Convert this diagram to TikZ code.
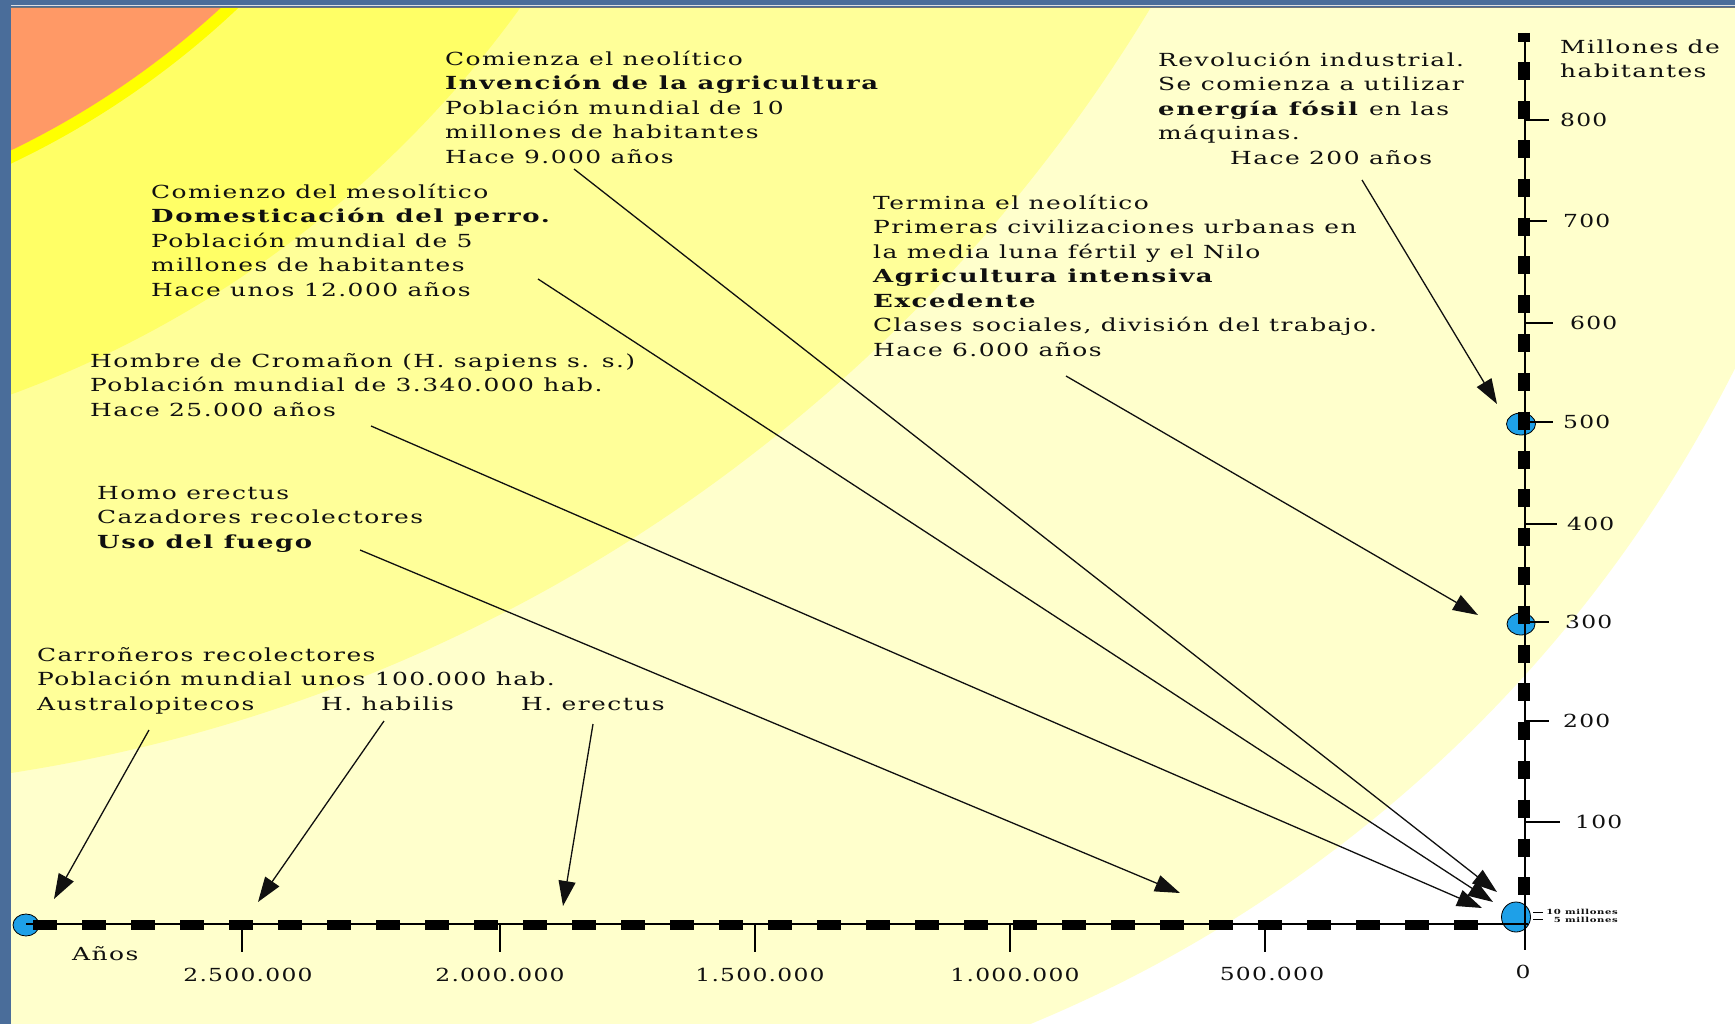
\documentclass[tikz,border=0pt]{standalone}
\usepackage{fontspec}
\setmainfont{DejaVu Serif}[FakeStretch=1.385, LetterSpace=8, BoldFeatures={FakeStretch=1.44, LetterSpace=9}]
\newfontfamily\numfont{DejaVu Serif}[FakeStretch=1.30, LetterSpace=7]
\usetikzlibrary{arrows.meta}
\definecolor{frameblue}{HTML}{4A6D9A}
\definecolor{orangeC}{HTML}{FF9966}
\definecolor{brightY}{HTML}{FFFF00}
\definecolor{midY}{HTML}{FFFF66}
\definecolor{lightY}{HTML}{FFFF99}
\definecolor{paleY}{HTML}{FFFFCC}
\definecolor{skyC}{HTML}{1EA0E8}
\definecolor{inkC}{HTML}{101010}
\newcommand\topstrut{\rule{0pt}{15pt}}
\begin{document}
\begin{tikzpicture}[x=1pt,y=-1pt,
  lbl/.style={anchor=north west, inner sep=0pt, align=left, text=inkC,
    font=\fontsize{18}{24.5}\selectfont},
  one/.style={anchor=base west, inner sep=0pt, text=inkC,
    font=\fontsize{18}{24.5}\selectfont},
  num/.style={inner sep=0pt, text=inkC, font=\numfont\fontsize{18}{22}\selectfont},
  tiny/.style={anchor=east, inner sep=0pt, text=inkC, font=\fontsize{7}{8}\selectfont\bfseries},
  pointer/.style={draw=inkC, line width=1.3pt, -{Triangle[length=25pt,width=17pt]}},
  dot/.style={fill=skyC, draw=black, line width=0.8pt},
  axisline/.style={draw=black, line width=1.6pt},
  tick/.style={draw=black, line width=1.4pt}]
\useasboundingbox (0,0) rectangle (1735,1024);
% background bands
\fill[white] (0,0) rectangle (1735,1024);
\begin{scope}
  \clip (0,0) rectangle (1735,1024);
  \fill[paleY] (505,-247) circle[radius=1375];
  \fill[lightY] (-238,-829) circle[radius=1621];
  \fill[midY] (-365,-630) circle[radius=1091];
  \fill[brightY] (-365,-630) circle[radius=878];
  \fill[orangeC] (-365,-630) circle[radius=866];
\end{scope}
% frame
\fill[frameblue] (0,0) rectangle (11,1024);
\fill[frameblue] (0,0) rectangle (1735,8);
\draw[white!75!gray, line width=1pt] (11,5.5) -- (1735,5.5);
\draw[black!55, line width=1pt] (11,7.5) -- (1735,7.5);
% markers
\draw[dot] (26,925) ellipse[x radius=13, y radius=11];
\draw[dot] (1516,917) ellipse[x radius=14.5, y radius=15];
\draw[dot] (1521,424) ellipse[x radius=14.5, y radius=11];
\draw[dot] (1521,624) ellipse[x radius=14, y radius=11];
% axes
\coordinate (hstart) at (26,924);
\coordinate (hend) at (1528,924);
\coordinate (vtop) at (1525,33);
\coordinate (vbot) at (1525,950);
\draw[axisline] (hstart) -- (hend);
\draw[axisline] (vtop) -- (vbot);
\draw[black, line width=10pt, dash pattern=on 24pt off 25pt] (33,925) -- (1478,925);
\draw[black, line width=12pt, dash pattern=on 18pt off 20.8pt, dash phase=9.3pt] (1524,33) -- (1524,903);
% horizontal ticks and labels
\foreach \tx in {242,500,755,1010,1265}{\draw[tick] (\tx,924) -- (\tx,952);}
\node[num] (t25) at (248,975) {2.500.000};
\node[num] (t20) at (500,975) {2.000.000};
\node[num] (t15) at (760,975) {1.500.000};
\node[num] (t10) at (1015,975) {1.000.000};
\node[num] (t05) at (1272,974) {500.000};
\node[num] (t00) at (1523,972) {0};
\node[one] (anos) at (72,960) {Años};
% vertical ticks and labels
\draw[tick] (1525,120) -- (1549,120);
\draw[tick] (1525,221) -- (1547,221);
\draw[tick] (1525,323) -- (1553,323);
\draw[tick] (1525,422) -- (1553,422);
\draw[tick] (1525,524) -- (1557,524);
\draw[tick] (1525,622) -- (1549,622);
\draw[tick] (1525,721) -- (1549,721);
\draw[tick] (1525,822) -- (1560,822);
\node[num, anchor=west] (v8) at (1560,120) {800};
\node[num, anchor=west] (v7) at (1563,221) {700};
\node[num, anchor=west] (v6) at (1570,323) {600};
\node[num, anchor=west] (v5) at (1563,422) {500};
\node[num, anchor=west] (v4) at (1567,524) {400};
\node[num, anchor=west] (v3) at (1565,622) {300};
\node[num, anchor=west] (v2) at (1563,721) {200};
\node[num, anchor=west] (v1) at (1575,822) {100};
\node[lbl] (mill) at (1560,38) {\topstrut Millones de\\habitantes};
\draw[tick, line width=1pt] (1533,912) -- (1543,912);
\draw[tick, line width=1pt] (1533,919) -- (1543,919);
\node[tiny] (m10) at (1618,912) {10 millones};
\node[tiny] (m5) at (1618,920) {5 millones};
% text blocks
\node[lbl] (neo) at (445,50) {\topstrut Comienza el neolítico\\\textbf{Invención de la agricultura}\\Población mundial de 10\\millones de habitantes\\Hace 9.000 años};
\node[lbl] (meso) at (151,183) {\topstrut Comienzo del mesolítico\\\textbf{Domesticación del perro.}\\Población mundial de 5\\millones de habitantes\\Hace unos 12.000 años};
\node[lbl] (croma) at (90,352) {\topstrut Hombre de Cromañon (H. sapiens s. s.)\\Población mundial de 3.340.000 hab.\\Hace 25.000 años};
\node[lbl] (homo) at (97,484) {\topstrut Homo erectus\\Cazadores recolectores\\\textbf{Uso del fuego}};
\node[lbl] (carro) at (37,646) {\topstrut Carroñeros recolectores\\Población mundial unos 100.000 hab.\\Australopitecos};
\node[one] (habilis) at (321,710) {H. habilis};
\node[one] (erectus) at (521,710) {H. erectus};
\node[lbl] (revol) at (1158,51) {\topstrut Revolución industrial.\\Se comienza a utilizar\\\textbf{energía fósil} en las\\máquinas.};
\node[one] (hace200) at (1230,165) {Hace 200 años};
\node[lbl] (termina) at (873,194) {\topstrut Termina el neolítico\\Primeras civilizaciones urbanas en\\la media luna fértil y el Nilo\\\textbf{Agricultura intensiva}\\\textbf{Excedente}\\Clases sociales, división del trabajo.\\Hace 6.000 años};
% arrow endpoints
\coordinate (a1s) at (149,730); \coordinate (a1e) at (54,899);
\coordinate (a2s) at (384,721); \coordinate (a2e) at (258,902);
\coordinate (a3s) at (593,724); \coordinate (a3e) at (563,906);
\coordinate (a4s) at (360,550); \coordinate (a4e) at (1180,893);
\coordinate (a5s) at (371,426); \coordinate (a5e) at (1482,908);
\coordinate (a6s) at (538,279); \coordinate (a6e) at (1493,902);
\coordinate (a7s) at (574,169); \coordinate (a7e) at (1497,892);
\coordinate (a8s) at (1066,376); \coordinate (a8e) at (1478,615);
\coordinate (a9s) at (1362,180); \coordinate (a9e) at (1497,404);
\foreach \k in {1,...,9}{\draw[pointer] (a\k s) -- (a\k e);}
\end{tikzpicture}
\end{document}
